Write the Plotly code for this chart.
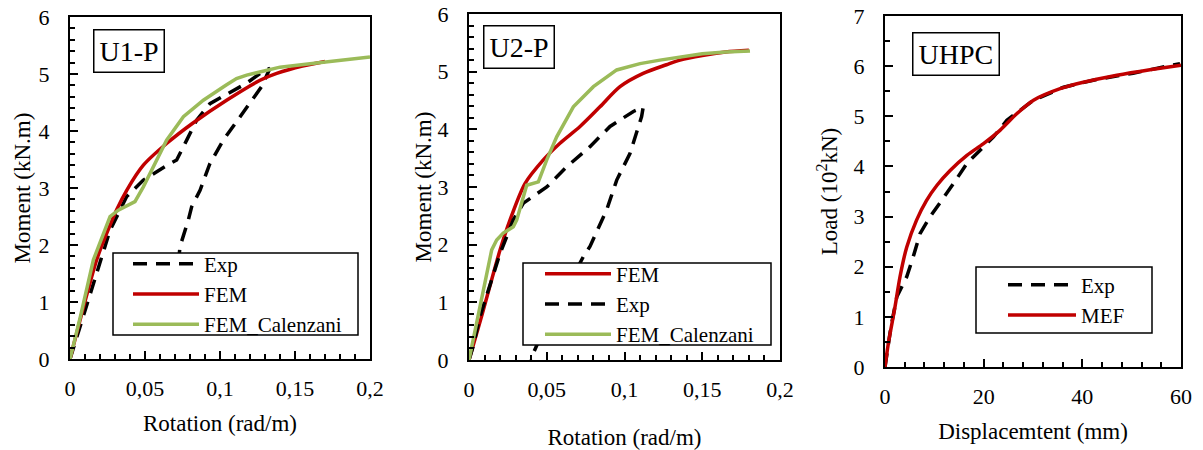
import plotly.graph_objects as go

# ---------------- Data ----------------
# Panel U1-P
u1_exp_x = [0, 0.012, 0.022, 0.0267, 0.0378, 0.0489, 0.0667, 0.0711, 0.0778, 0.0844, 0.0933, 0.1089, 0.1178, 0.1267, 0.1333,
            0.1278, 0.1133, 0.1022, 0.0933, 0.0867, 0.0811, 0.0789, 0.0733, 0.071]
u1_exp_y = [0, 1.0, 1.85, 2.26, 2.85, 3.14, 3.43, 3.49, 3.84, 4.19, 4.48, 4.72, 4.84, 5.01, 5.1,
            4.78, 4.25, 3.84, 3.43, 2.96, 2.67, 2.44, 1.97, 1.3]
u1_fem_x = [0, 0.0178, 0.0244, 0.0311, 0.0378, 0.0489, 0.0644, 0.082, 0.1044, 0.1267, 0.1378, 0.155, 0.170]
u1_fem_y = [0, 1.74, 2.2, 2.62, 2.96, 3.40, 3.78, 4.14, 4.54, 4.89, 5.01, 5.14, 5.22]
u1_cal_x = [0, 0.007, 0.0156, 0.0233, 0.0267, 0.0322, 0.0367, 0.0433, 0.0489, 0.0556, 0.0644, 0.0756, 0.0889,
            0.1044, 0.111, 0.1178, 0.131, 0.140, 0.160, 0.180, 0.200]
u1_cal_y = [0, 0.75, 1.74, 2.27, 2.5, 2.61, 2.67, 2.76, 3.02, 3.37, 3.84, 4.25, 4.54,
            4.81, 4.92, 4.98, 5.07, 5.12, 5.18, 5.24, 5.30]

# Panel U2-P
u2_fem_x = [0, 0.0075, 0.02, 0.0264, 0.036, 0.0478, 0.0585, 0.0714, 0.0842, 0.0971, 0.112, 0.127, 0.1357, 0.150, 0.165, 0.180]
u2_fem_y = [0, 0.7, 1.91, 2.43, 3.06, 3.47, 3.76, 4.05, 4.39, 4.74, 4.97, 5.12, 5.2, 5.28, 5.34, 5.37]
u2_exp_x = [0, 0.0026, 0.007, 0.020, 0.0285, 0.035, 0.050, 0.0628, 0.0778, 0.0907, 0.1057, 0.112,
            0.111, 0.1035, 0.095, 0.0885, 0.0778, 0.0735, 0.060, 0.046, 0.0414, 0.040]
u2_exp_y = [0, 0.23, 0.75, 1.85, 2.43, 2.72, 3.0, 3.35, 3.7, 4.05, 4.31, 4.38,
            4.22, 3.58, 3.12, 2.6, 1.97, 1.79, 1.1, 0.4, 0.12, 0.0]
u2_cal_x = [0, 0.0071, 0.0146, 0.0178, 0.022, 0.0285, 0.0307, 0.0371, 0.0446, 0.05, 0.0564, 0.0671, 0.080,
            0.095, 0.110, 0.1228, 0.1357, 0.150, 0.165, 0.1807]
u2_cal_y = [0, 0.92, 1.91, 2.08, 2.2, 2.31, 2.43, 3.03, 3.09, 3.47, 3.87, 4.39, 4.74,
            5.03, 5.14, 5.2, 5.25, 5.31, 5.34, 5.36]

# Panel UHPC
uh_exp_x = [0, 1.2, 2.4, 4.4, 5.7, 7.1, 9.1, 11.1, 13.9, 16.6, 19.3, 22.0, 24.7, 27.4, 30.1, 36.2, 42.2, 50.3, 59.8]
uh_exp_y = [0, 0.8, 1.4, 1.8, 2.19, 2.66, 2.99, 3.26, 3.66, 4.06, 4.32, 4.59, 4.92, 5.12, 5.32, 5.58, 5.72, 5.86, 6.05]
uh_mef_x = [0, 0.68, 2.03, 3.04, 4.4, 6.4, 8.4, 10.5, 13.2, 16.6, 19.9, 23.3, 26.7, 30.1, 35.5, 40.2, 47.0, 53.7, 60.0]
uh_mef_y = [0, 0.47, 1.2, 1.8, 2.39, 2.93, 3.32, 3.62, 3.92, 4.22, 4.45, 4.72, 5.05, 5.32, 5.55, 5.68, 5.82, 5.93, 6.02]

# ---------------- Styles ----------------
RED = "#C00000"
GREEN = "#9BBB59"
BLACK = "#000000"
FONT = "Liberation Serif, 'Times New Roman', 'DejaVu Serif', serif"
DASH = "14px,9px"

FW, FH = 1203, 450


def px(x):
    return x / FW


def py(y):
    return 1 - y / FH


fig = go.Figure()


def add(x, y, name, color, width, dash, xa, ya, legend, shape="linear"):
    line = dict(color=color, width=width, dash=dash, shape=shape)
    if shape == "spline":
        line["smoothing"] = 0.8
    fig.add_trace(go.Scatter(x=x, y=y, mode="lines", name=name, line=line,
                             xaxis=xa, yaxis=ya, legend=legend))


add(u1_exp_x, u1_exp_y, "Exp", BLACK, 3.5, DASH, "x", "y", "legend")
add(u1_fem_x, u1_fem_y, "FEM", RED, 3.5, "solid", "x", "y", "legend", "spline")
add(u1_cal_x, u1_cal_y, "FEM_Calenzani", GREEN, 3.5, "solid", "x", "y", "legend")

add(u2_fem_x, u2_fem_y, "FEM", RED, 3.5, "solid", "x2", "y2", "legend2", "spline")
add(u2_exp_x, u2_exp_y, "Exp", BLACK, 3.5, DASH, "x2", "y2", "legend2")
add(u2_cal_x, u2_cal_y, "FEM_Calenzani", GREEN, 3.5, "solid", "x2", "y2", "legend2")

add(uh_exp_x, uh_exp_y, "Exp", BLACK, 3.5, DASH, "x3", "y3", "legend3")
add(uh_mef_x, uh_mef_y, "MEF", RED, 3.5, "solid", "x3", "y3", "legend3", "spline")

common = dict(showgrid=False, zeroline=False, showline=True, linecolor=BLACK, linewidth=2,
              mirror=True, ticks="inside", ticklen=8, tickwidth=2, tickcolor=BLACK, automargin=False,
              ticklabeloverflow="allow",
              tickfont=dict(family=FONT, size=22, color=BLACK))


def xax(left, right, rng, dtick, mdtick, title, standoff, anchor):
    d = dict(common)
    d.update(domain=[px(left), px(right)], range=rng, dtick=dtick, tick0=0, anchor=anchor,
             minor=dict(ticks="inside", dtick=mdtick, ticklen=5, tickwidth=2, tickcolor=BLACK, showgrid=False),
             ticklabelstandoff=9,
             title=dict(text=title, font=dict(family=FONT, size=23, color=BLACK), standoff=standoff))
    return d


def yax(top, bot, rng, dtick, mdtick, title, anchor, standoff):
    d = dict(common)
    d.update(domain=[py(bot), py(top)], range=rng, dtick=dtick, tick0=0, anchor=anchor,
             minor=dict(ticks="inside", dtick=mdtick, ticklen=5, tickwidth=2, tickcolor=BLACK, showgrid=False),
             ticklabelstandoff=14,
             title=dict(text=title, font=dict(family=FONT, size=23, color=BLACK), standoff=standoff))
    return d


def leg(left, cy, iw):
    return dict(bgcolor="rgba(0,0,0,0)", borderwidth=0,
                font=dict(family=FONT, size=21, color=BLACK),
                xanchor="left", yanchor="middle", x=px(left), y=py(cy),
                itemwidth=iw, tracegroupgap=0)


fig.update_layout(
    template="none",
    width=FW, height=FH,
    margin=dict(l=0, r=0, t=0, b=0),
    paper_bgcolor="white", plot_bgcolor="white",
    separators=", ",
    font=dict(family=FONT, color=BLACK, size=21),
    xaxis=xax(70, 370, [0, 0.2], 0.05, 0.01, "Rotation (rad/m)", 14, "y"),
    yaxis=yax(17, 359, [0, 6], 1, 0.2, "Moment (kN.m)", "x", 2),
    xaxis2=xax(469, 780, [0, 0.2], 0.05, 0.01, "Rotation (rad/m)", 27, "y2"),
    yaxis2=yax(14, 360, [0, 6], 1, 0.2, "Moment (kN.m)", "x2", 0),
    xaxis3=xax(885, 1181, [0, 60], 20, 4, "Displacemtent (mm)", 14, "y3"),
    yaxis3=yax(16, 367, [0, 7], 1, 0.5, "Load (10<sup>2</sup>kN)", "x3", 10),
    legend=leg(128, 294, 66),
    legend2=leg(540, 304, 66),
    legend3=leg(1003, 300, 68),
)

# legend frames (white boxes that hide the curves underneath, as in the original)
for (l, t, r, b) in [(113, 253, 358, 335), (523, 263, 771, 345), (976, 267, 1152, 333)]:
    fig.add_shape(type="rect", xref="paper", yref="paper", x0=px(l), x1=px(r), y0=py(b), y1=py(t),
                  fillcolor="white", line=dict(color=BLACK, width=1.5), layer="above")


def label(text, x, y):
    fig.add_annotation(text=text, xref="paper", yref="paper", x=px(x), y=py(y),
                       xanchor="left", yanchor="top", showarrow=False,
                       font=dict(family=FONT, size=28, color=BLACK),
                       bgcolor="white", bordercolor=BLACK, borderwidth=1.5, borderpad=5)


label("U1-P", 93, 29)
label("U2-P", 483, 25)
label("UHPC", 912, 32)

# remove the browser's default 8px body margin so the figure fills the page
fig.write_html("out.html", config={"displayModeBar": False},
               post_script="document.body.style.margin='0px';")
